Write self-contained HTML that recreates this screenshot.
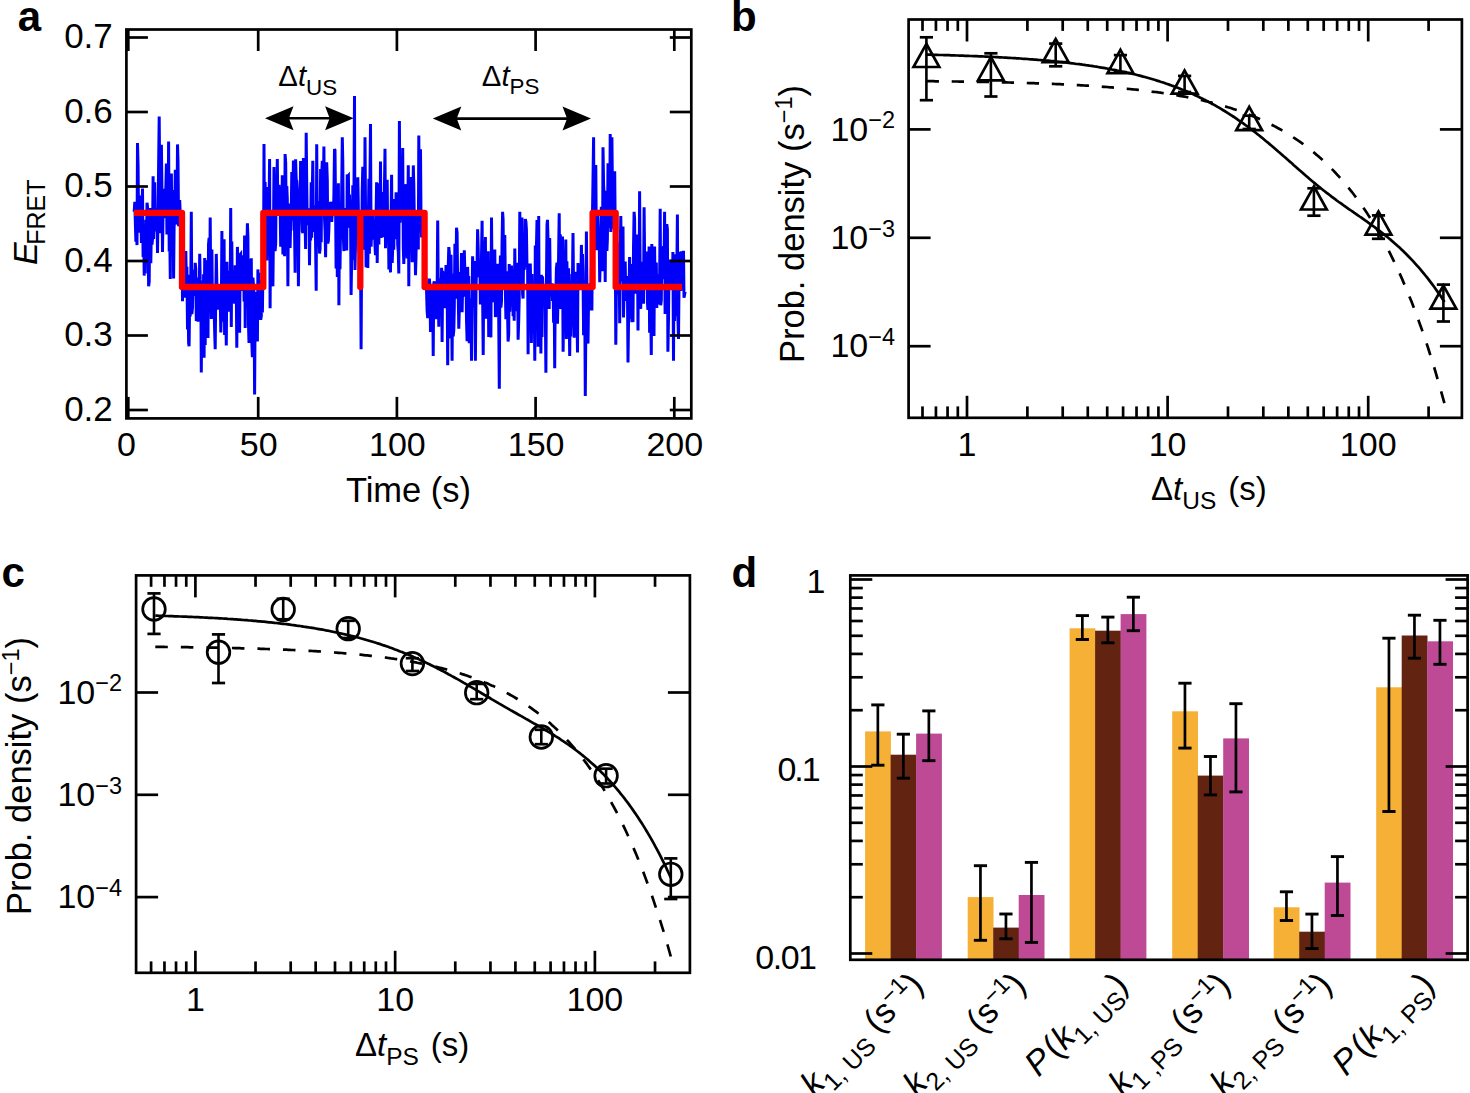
<!DOCTYPE html><html><head><meta charset="utf-8"><style>html,body{margin:0;padding:0;background:#fff;}svg{display:block;}</style></head><body><svg width="1470" height="1093" viewBox="0 0 1470 1093" font-family="'Liberation Sans', sans-serif">
<rect width="1470" height="1093" fill="#fff"/>
<polyline points="134.2,211.8 134.8,201.8 135.3,221.0 135.9,241.7 136.4,227.1 137.0,245.1 137.5,143.0 138.1,166.9 138.6,228.3 139.2,232.6 139.8,195.4 140.3,199.9 140.9,208.3 141.4,243.0 142.0,212.8 142.5,188.5 143.1,256.9 143.6,227.2 144.2,275.6 144.7,255.1 145.3,273.6 145.9,219.7 146.4,254.3 147.0,202.7 147.5,206.6 148.1,218.1 148.6,286.3 149.2,282.0 149.7,213.5 150.3,208.0 150.8,263.1 151.4,227.8 152.0,244.6 152.5,238.9 153.1,176.3 153.6,238.9 154.2,212.9 154.7,182.2 155.3,231.4 155.8,215.6 156.4,208.1 156.9,209.7 157.5,252.9 158.1,209.3 158.6,166.3 159.2,116.6 159.7,183.0 160.3,207.8 160.8,233.3 161.4,144.8 161.9,186.3 162.5,252.0 163.1,209.3 163.6,192.5 164.2,218.2 164.7,188.9 165.3,214.1 165.8,189.5 166.4,163.6 166.9,234.5 167.5,205.0 168.0,227.4 168.6,141.5 169.2,251.6 169.7,231.3 170.3,279.0 170.8,181.7 171.4,173.4 171.9,256.2 172.5,238.5 173.0,190.1 173.6,278.6 174.1,227.4 174.7,215.1 175.3,169.7 175.8,188.7 176.4,222.8 176.9,224.2 177.5,144.4 178.0,160.8 178.6,226.2 179.1,222.0 179.7,200.0 180.3,215.9 180.8,218.4 181.4,249.2 181.9,212.2 182.5,301.2 183.0,247.2 183.6,264.4 184.1,287.1 184.7,263.9 185.2,297.7 185.8,251.1 186.4,286.5 186.9,266.8 187.5,329.6 188.0,274.7 188.6,342.9 189.1,346.3 189.7,296.5 190.2,316.5 190.8,280.8 191.3,211.8 191.9,314.2 192.5,307.2 193.0,279.4 193.6,269.8 194.1,292.2 194.7,293.2 195.2,262.8 195.8,268.9 196.3,321.0 196.9,289.0 197.4,285.1 198.0,321.7 198.6,277.6 199.1,315.1 199.7,253.7 200.2,279.9 200.8,283.3 201.3,372.6 201.9,290.3 202.4,353.3 203.0,324.3 203.6,274.2 204.1,357.7 204.7,257.9 205.2,344.9 205.8,261.0 206.3,314.7 206.9,260.2 207.4,281.9 208.0,337.9 208.5,244.5 209.1,238.0 209.7,288.5 210.2,217.5 210.8,291.7 211.3,319.0 211.9,249.5 212.4,304.5 213.0,288.0 213.5,312.9 214.1,307.3 214.6,329.2 215.2,349.2 215.8,291.5 216.3,253.9 216.9,285.9 217.4,309.6 218.0,297.3 218.5,305.1 219.1,286.1 219.6,298.9 220.2,296.4 220.8,332.5 221.3,313.4 221.9,230.9 222.4,308.8 223.0,321.7 223.5,275.0 224.1,239.2 224.6,335.1 225.2,293.3 225.7,307.5 226.3,345.4 226.9,261.7 227.4,287.1 228.0,283.9 228.5,311.6 229.1,271.1 229.6,304.4 230.2,291.1 230.7,207.9 231.3,327.1 231.8,241.6 232.4,303.3 233.0,276.6 233.5,287.5 234.1,301.1 234.6,303.4 235.2,265.2 235.7,296.5 236.3,291.4 236.8,347.8 237.4,246.9 237.9,263.5 238.5,273.5 239.1,305.2 239.6,332.7 240.2,254.5 240.7,253.9 241.3,291.0 241.8,268.2 242.4,260.1 242.9,258.5 243.5,255.4 244.1,301.6 244.6,235.5 245.2,328.1 245.7,257.4 246.3,269.8 246.8,257.0 247.4,223.3 247.9,236.6 248.5,324.7 249.0,342.9 249.6,258.9 250.2,320.4 250.7,286.7 251.3,258.2 251.8,341.4 252.4,357.1 252.9,277.6 253.5,284.8 254.0,294.6 254.6,394.6 255.1,315.2 255.7,337.1 256.3,291.9 256.8,318.9 257.4,341.4 257.9,269.4 258.5,288.4 259.0,272.7 259.6,319.5 260.1,308.4 260.7,319.8 261.3,316.1 261.8,279.8 262.4,312.6 262.9,274.4 263.5,274.9 264.0,143.9 264.6,258.5 265.1,182.1 265.7,214.8 266.2,212.3 266.8,260.4 267.4,227.3 267.9,186.9 268.5,214.6 269.0,209.1 269.6,159.0 270.1,308.3 270.7,212.5 271.2,285.6 271.8,235.0 272.3,277.8 272.9,286.3 273.5,229.6 274.0,167.1 274.6,210.3 275.1,251.1 275.7,243.4 276.2,173.9 276.8,206.5 277.3,159.0 277.9,213.6 278.5,210.5 279.0,184.8 279.6,193.3 280.1,204.6 280.7,246.8 281.2,194.7 281.8,234.8 282.3,175.2 282.9,254.4 283.4,216.4 284.0,212.1 284.6,256.2 285.1,154.1 285.7,162.9 286.2,227.4 286.8,186.0 287.3,199.1 287.9,286.3 288.4,203.4 289.0,213.9 289.5,209.0 290.1,247.9 290.7,220.9 291.2,217.8 291.8,172.0 292.3,200.6 292.9,212.0 293.4,160.6 294.0,230.4 294.5,224.9 295.1,272.7 295.6,159.2 296.2,179.5 296.8,181.1 297.3,189.4 297.9,208.1 298.4,286.3 299.0,220.3 299.5,218.7 300.1,210.0 300.6,161.1 301.2,193.2 301.8,213.8 302.3,231.3 302.9,233.1 303.4,158.1 304.0,194.8 304.5,209.6 305.1,223.4 305.6,249.0 306.2,132.7 306.7,182.5 307.3,225.0 307.9,219.4 308.4,219.2 309.0,208.2 309.5,265.2 310.1,219.7 310.6,240.5 311.2,182.2 311.7,237.7 312.3,192.5 312.8,160.7 313.4,222.3 314.0,232.0 314.5,205.4 315.1,211.9 315.6,245.1 316.2,290.7 316.7,144.3 317.3,220.5 317.8,218.6 318.4,246.9 319.0,201.1 319.5,253.6 320.1,248.9 320.6,168.9 321.2,242.2 321.7,175.6 322.3,160.7 322.8,203.1 323.4,193.3 323.9,146.4 324.5,218.4 325.1,231.7 325.6,257.2 326.2,210.4 326.7,162.2 327.3,179.7 327.8,243.4 328.4,240.5 328.9,228.7 329.5,202.0 330.0,218.7 330.6,204.6 331.2,201.9 331.7,221.8 332.3,213.2 332.8,204.9 333.4,214.6 333.9,194.9 334.5,149.1 335.0,150.2 335.6,210.0 336.1,268.4 336.7,198.8 337.3,277.1 337.8,259.1 338.4,183.2 338.9,305.3 339.5,216.9 340.0,269.2 340.6,224.3 341.1,234.6 341.7,190.5 342.3,137.3 342.8,162.0 343.4,238.0 343.9,251.1 344.5,213.7 345.0,217.8 345.6,250.4 346.1,207.9 346.7,250.4 347.2,174.5 347.8,176.2 348.4,175.5 348.9,227.7 349.5,194.6 350.0,216.3 350.6,224.9 351.1,295.0 351.7,255.4 352.2,260.2 352.8,185.2 353.3,218.2 353.9,204.6 354.5,96.1 355.0,269.9 355.6,238.1 356.1,206.0 356.7,198.7 357.2,224.5 357.8,177.3 358.3,204.8 358.9,252.5 359.5,243.0 360.0,259.3 360.6,270.8 361.1,349.2 361.7,241.1 362.2,191.8 362.8,166.8 363.3,224.7 363.9,221.7 364.4,249.6 365.0,137.3 365.6,217.7 366.1,267.3 366.7,233.5 367.2,206.3 367.8,267.9 368.3,224.7 368.9,178.8 369.4,253.8 370.0,175.9 370.5,123.9 371.1,246.8 371.7,228.6 372.2,227.2 372.8,213.5 373.3,229.8 373.9,239.6 374.4,222.0 375.0,246.3 375.5,255.1 376.1,213.4 376.6,182.2 377.2,263.1 377.8,211.7 378.3,233.6 378.9,244.6 379.4,183.2 380.0,229.2 380.5,161.6 381.1,238.0 381.6,198.9 382.2,219.4 382.8,237.1 383.3,192.1 383.9,217.0 384.4,191.6 385.0,148.8 385.5,248.2 386.1,215.3 386.6,210.1 387.2,179.7 387.7,242.2 388.3,213.1 388.9,269.6 389.4,264.4 390.0,248.1 390.5,272.4 391.1,213.8 391.6,174.8 392.2,262.9 392.7,248.3 393.3,236.7 393.8,249.7 394.4,199.1 395.0,238.9 395.5,236.0 396.1,192.3 396.6,237.2 397.2,197.3 397.7,244.4 398.3,252.5 398.8,273.4 399.4,121.0 400.0,222.6 400.5,203.7 401.1,212.9 401.6,206.5 402.2,210.2 402.7,147.9 403.3,246.7 403.8,264.0 404.4,245.8 404.9,256.6 405.5,186.8 406.1,184.3 406.6,244.1 407.2,258.4 407.7,223.7 408.3,165.2 408.8,286.3 409.4,194.2 409.9,247.9 410.5,177.0 411.0,248.0 411.6,221.4 412.2,262.3 412.7,244.6 413.3,165.4 413.8,184.3 414.4,225.3 414.9,241.0 415.5,275.3 416.0,257.0 416.6,212.9 417.2,214.6 417.7,215.0 418.3,249.4 418.8,135.6 419.4,213.1 419.9,168.6 420.5,149.2 421.0,216.4 421.6,237.5 422.1,214.0 422.7,232.2 423.3,236.7 423.8,213.8 424.4,246.8 424.9,266.0 425.5,289.8 426.0,277.9 426.6,292.5 427.1,310.7 427.7,318.1 428.2,294.3 428.8,304.7 429.4,278.5 429.9,286.5 430.5,332.0 431.0,284.1 431.6,331.3 432.1,307.0 432.7,296.2 433.2,355.9 433.8,283.3 434.3,281.3 434.9,291.6 435.5,300.6 436.0,298.9 436.6,319.1 437.1,295.4 437.7,220.5 438.2,283.3 438.8,326.7 439.3,278.4 439.9,281.5 440.5,291.1 441.0,301.1 441.6,267.8 442.1,342.1 442.7,270.9 443.2,278.2 443.8,276.8 444.3,273.5 444.9,308.2 445.4,295.0 446.0,265.0 446.6,271.9 447.1,279.4 447.7,365.3 448.2,268.3 448.8,247.1 449.3,252.5 449.9,278.5 450.4,338.6 451.0,254.7 451.5,291.3 452.1,360.8 452.7,273.7 453.2,336.4 453.8,329.8 454.3,307.6 454.9,243.7 455.4,298.8 456.0,277.2 456.5,227.7 457.1,232.9 457.7,289.8 458.2,294.4 458.8,328.6 459.3,309.6 459.9,272.1 460.4,273.1 461.0,282.6 461.5,253.0 462.1,312.2 462.6,288.2 463.2,261.8 463.8,266.7 464.3,250.4 464.9,273.0 465.4,296.7 466.0,274.2 466.5,319.9 467.1,341.3 467.6,266.9 468.2,288.2 468.7,276.0 469.3,343.2 469.9,298.6 470.4,306.4 471.0,315.3 471.5,360.8 472.1,297.6 472.6,256.2 473.2,273.6 473.7,306.5 474.3,286.8 474.8,261.0 475.4,360.8 476.0,290.5 476.5,268.1 477.1,263.5 477.6,229.3 478.2,248.3 478.7,275.9 479.3,276.2 479.8,259.9 480.4,304.4 481.0,287.7 481.5,255.9 482.1,220.7 482.6,291.7 483.2,355.0 483.7,279.7 484.3,241.3 484.8,287.3 485.4,237.1 485.9,318.7 486.5,292.6 487.1,293.0 487.6,260.0 488.2,251.3 488.7,336.9 489.3,317.0 489.8,275.0 490.4,308.4 490.9,337.4 491.5,217.5 492.0,269.8 492.6,269.8 493.2,302.3 493.7,251.8 494.3,294.4 494.8,249.6 495.4,316.9 495.9,315.0 496.5,279.5 497.0,309.9 497.6,263.7 498.2,277.6 498.7,317.3 499.3,388.8 499.8,298.1 500.4,255.6 500.9,307.5 501.5,301.1 502.0,245.7 502.6,211.8 503.1,219.3 503.7,284.2 504.3,279.0 504.8,234.9 505.4,290.5 505.9,319.1 506.5,282.4 507.0,271.2 507.6,314.1 508.1,341.5 508.7,334.5 509.2,264.0 509.8,311.8 510.4,291.1 510.9,279.2 511.5,265.6 512.0,297.6 512.6,269.6 513.1,316.2 513.7,298.5 514.2,320.7 514.8,248.4 515.3,287.2 515.9,311.1 516.5,298.1 517.0,293.8 517.6,262.8 518.1,339.8 518.7,321.1 519.2,299.0 519.8,211.8 520.3,254.3 520.9,290.1 521.5,262.5 522.0,217.4 522.6,294.2 523.1,298.6 523.7,245.7 524.2,269.8 524.8,263.8 525.3,219.0 525.9,221.8 526.4,229.0 527.0,267.4 527.6,263.4 528.1,354.3 528.7,265.0 529.2,292.8 529.8,271.8 530.3,263.5 530.9,297.8 531.4,343.0 532.0,274.0 532.5,311.2 533.1,297.4 533.7,306.6 534.2,297.8 534.8,360.8 535.3,245.5 535.9,277.8 536.4,249.1 537.0,220.0 537.5,285.6 538.1,346.8 538.7,216.0 539.2,326.8 539.8,303.2 540.3,283.7 540.9,353.5 541.4,274.8 542.0,337.0 542.5,276.4 543.1,290.0 543.6,296.8 544.2,288.8 544.8,304.4 545.3,306.9 545.9,372.7 546.4,287.3 547.0,224.5 547.5,219.9 548.1,242.0 548.6,262.7 549.2,309.0 549.7,238.0 550.3,288.2 550.9,288.6 551.4,296.1 552.0,283.2 552.5,300.9 553.1,289.1 553.6,322.7 554.2,298.9 554.7,368.3 555.3,288.7 555.9,294.3 556.4,268.5 557.0,262.6 557.5,323.7 558.1,293.3 558.6,255.5 559.2,213.2 559.7,282.2 560.3,234.2 560.8,309.1 561.4,283.6 562.0,303.8 562.5,236.4 563.1,351.8 563.6,308.8 564.2,304.1 564.7,264.1 565.3,266.0 565.8,239.6 566.4,339.1 566.9,261.2 567.5,296.2 568.1,308.6 568.6,268.2 569.2,317.2 569.7,356.0 570.3,298.7 570.8,336.5 571.4,308.1 571.9,273.9 572.5,275.9 573.0,233.1 573.6,293.0 574.2,337.7 574.7,311.7 575.3,317.2 575.8,327.2 576.4,271.7 576.9,308.0 577.5,352.6 578.0,263.0 578.6,290.1 579.2,274.4 579.7,282.8 580.3,265.2 580.8,285.1 581.4,244.9 581.9,272.1 582.5,254.0 583.0,272.6 583.6,335.2 584.1,291.8 584.7,295.0 585.3,396.0 585.8,331.9 586.4,231.5 586.9,282.8 587.5,326.9 588.0,343.6 588.6,295.8 589.1,289.3 589.7,310.4 590.2,283.2 590.8,307.8 591.4,267.8 591.9,310.6 592.5,213.1 593.0,179.0 593.6,137.3 594.1,245.6 594.7,227.4 595.2,240.0 595.8,164.9 596.4,250.3 596.9,228.1 597.5,212.8 598.0,244.6 598.6,243.9 599.1,227.8 599.7,282.2 600.2,260.3 600.8,225.7 601.3,206.9 601.9,218.1 602.5,271.3 603.0,147.3 603.6,185.1 604.1,193.2 604.7,214.5 605.2,282.0 605.8,190.7 606.3,231.2 606.9,251.0 607.4,238.7 608.0,163.3 608.6,204.4 609.1,173.0 609.7,227.9 610.2,134.1 610.8,232.0 611.3,217.1 611.9,137.3 612.4,186.1 613.0,228.6 613.5,214.7 614.1,200.9 614.7,171.2 615.2,228.2 615.8,344.7 616.3,295.7 616.9,285.8 617.4,282.7 618.0,242.2 618.5,275.7 619.1,259.1 619.7,323.2 620.2,257.2 620.8,216.1 621.3,260.4 621.9,277.8 622.4,281.2 623.0,226.4 623.5,317.4 624.1,290.1 624.6,270.9 625.2,261.4 625.8,301.0 626.3,276.0 626.9,295.6 627.4,282.3 628.0,362.4 628.5,324.6 629.1,287.0 629.6,256.9 630.2,318.7 630.7,294.4 631.3,264.0 631.9,322.2 632.4,280.2 633.0,321.9 633.5,248.3 634.1,211.8 634.6,218.5 635.2,293.7 635.7,261.5 636.3,282.3 636.9,282.9 637.4,234.4 638.0,330.6 638.5,251.0 639.1,288.0 639.6,191.2 640.2,280.1 640.7,308.9 641.3,277.0 641.8,261.7 642.4,285.1 643.0,270.0 643.5,303.8 644.1,207.3 644.6,256.2 645.2,262.9 645.7,281.4 646.3,284.0 646.8,251.6 647.4,301.7 647.9,310.0 648.5,292.7 649.1,246.5 649.6,332.8 650.2,246.4 650.7,307.8 651.3,355.0 651.8,244.1 652.4,289.6 652.9,329.9 653.5,298.4 654.0,336.0 654.6,246.4 655.2,300.6 655.7,272.7 656.3,262.4 656.8,307.9 657.4,274.4 657.9,287.4 658.5,304.3 659.0,302.8 659.6,284.1 660.2,208.8 660.7,305.3 661.3,300.6 661.8,249.0 662.4,279.2 662.9,256.7 663.5,246.0 664.0,266.6 664.6,211.8 665.1,314.0 665.7,259.2 666.3,297.0 666.8,224.1 667.4,229.3 667.9,351.8 668.5,318.8 669.0,264.1 669.6,259.8 670.1,261.6 670.7,288.7 671.2,271.1 671.8,264.4 672.4,288.9 672.9,251.9 673.5,360.8 674.0,265.1 674.6,321.0 675.1,254.2 675.7,294.0 676.2,316.1 676.8,273.8 677.4,214.6 677.9,316.9 678.5,338.9 679.0,287.2 679.6,269.7 680.1,252.0 680.7,291.1 681.2,251.2 681.8,285.7 682.3,289.5 682.9,267.1 683.5,250.8 684.0,297.8 684.6,294.5 685.1,291.7" fill="none" stroke="#0000FA" stroke-width="3.0" stroke-linejoin="miter"/>
<polyline points="134,212.9 182,212.9 182,287 263.3,287 263.3,212.9 360.3,212.9 360.3,287 360.3,212.9 424.6,212.9 424.6,287 592.6,287 592.6,212.9 615.7,212.9 615.7,287 682,287" fill="none" stroke="#FF0000" stroke-width="6.3" stroke-linejoin="round"/>
<rect x="126.40" y="29.50" width="564.90" height="388.90" fill="none" stroke="#000" stroke-width="2.7"/>
<line x1="126.40" y1="410.00" x2="147.90" y2="410.00" stroke="#000" stroke-width="2.7" />
<line x1="669.80" y1="410.00" x2="691.30" y2="410.00" stroke="#000" stroke-width="2.7" />
<text x="112.80" y="420.60" font-size="35" text-anchor="end" >0.2</text>
<line x1="126.40" y1="335.50" x2="147.90" y2="335.50" stroke="#000" stroke-width="2.7" />
<line x1="669.80" y1="335.50" x2="691.30" y2="335.50" stroke="#000" stroke-width="2.7" />
<text x="112.80" y="346.10" font-size="35" text-anchor="end" >0.3</text>
<line x1="126.40" y1="261.00" x2="147.90" y2="261.00" stroke="#000" stroke-width="2.7" />
<line x1="669.80" y1="261.00" x2="691.30" y2="261.00" stroke="#000" stroke-width="2.7" />
<text x="112.80" y="271.60" font-size="35" text-anchor="end" >0.4</text>
<line x1="126.40" y1="186.50" x2="147.90" y2="186.50" stroke="#000" stroke-width="2.7" />
<line x1="669.80" y1="186.50" x2="691.30" y2="186.50" stroke="#000" stroke-width="2.7" />
<text x="112.80" y="197.10" font-size="35" text-anchor="end" >0.5</text>
<line x1="126.40" y1="112.00" x2="147.90" y2="112.00" stroke="#000" stroke-width="2.7" />
<line x1="669.80" y1="112.00" x2="691.30" y2="112.00" stroke="#000" stroke-width="2.7" />
<text x="112.80" y="122.60" font-size="35" text-anchor="end" >0.6</text>
<line x1="126.40" y1="37.50" x2="147.90" y2="37.50" stroke="#000" stroke-width="2.7" />
<line x1="669.80" y1="37.50" x2="691.30" y2="37.50" stroke="#000" stroke-width="2.7" />
<text x="112.80" y="48.10" font-size="35" text-anchor="end" >0.7</text>
<line x1="258.20" y1="418.40" x2="258.20" y2="396.90" stroke="#000" stroke-width="2.7" />
<line x1="258.20" y1="29.50" x2="258.20" y2="51.00" stroke="#000" stroke-width="2.7" />
<line x1="396.90" y1="418.40" x2="396.90" y2="396.90" stroke="#000" stroke-width="2.7" />
<line x1="396.90" y1="29.50" x2="396.90" y2="51.00" stroke="#000" stroke-width="2.7" />
<line x1="535.60" y1="418.40" x2="535.60" y2="396.90" stroke="#000" stroke-width="2.7" />
<line x1="535.60" y1="29.50" x2="535.60" y2="51.00" stroke="#000" stroke-width="2.7" />
<line x1="674.30" y1="418.40" x2="674.30" y2="396.90" stroke="#000" stroke-width="2.7" />
<line x1="674.30" y1="29.50" x2="674.30" y2="51.00" stroke="#000" stroke-width="2.7" />
<line x1="128.30" y1="29.50" x2="128.30" y2="51.00" stroke="#000" stroke-width="2.7" />
<line x1="128.30" y1="418.40" x2="128.30" y2="396.90" stroke="#000" stroke-width="2.7" />
<text x="126.50" y="456.00" font-size="34" text-anchor="middle" >0</text>
<text x="258.70" y="456.00" font-size="34" text-anchor="middle" >50</text>
<text x="397.40" y="456.00" font-size="34" text-anchor="middle" >100</text>
<text x="536.10" y="456.00" font-size="34" text-anchor="middle" >150</text>
<text x="674.80" y="456.00" font-size="34" text-anchor="middle" >200</text>
<text x="408.50" y="501.50" font-size="34.5" text-anchor="middle" >Time (s)</text>
<g transform="translate(37,265) rotate(-90)"><text x="0" y="0" font-size="34"><tspan font-style="italic">E</tspan><tspan font-size="25" dy="8" dx="-2.5">FRET</tspan></text></g>
<text x="17.80" y="31.00" font-size="42" text-anchor="start" font-weight="bold">a</text>
<line x1="282.1" y1="118.3" x2="336.5" y2="118.3" stroke="#000" stroke-width="2.6"/>
<path d="M265,118.3 L293.5,106.3 L288.94,118.3 L293.5,130.3 Z" fill="#000"/>
<path d="M353.6,118.3 L325.1,106.3 L329.66,118.3 L325.1,130.3 Z" fill="#000"/>
<line x1="449.9" y1="118.6" x2="573.9" y2="118.6" stroke="#000" stroke-width="2.6"/>
<path d="M432.8,118.6 L461.3,106.6 L456.74,118.6 L461.3,130.6 Z" fill="#000"/>
<path d="M591,118.6 L562.5,106.6 L567.06,118.6 L562.5,130.6 Z" fill="#000"/>
<text x="278.3" y="86" font-size="29.3">Δ<tspan font-style="italic">t</tspan><tspan font-size="22.4" dy="8.5">US</tspan></text>
<text x="481.8" y="85.7" font-size="29.3">Δ<tspan font-style="italic">t</tspan><tspan font-size="22.4" dy="8.5">PS</tspan></text>
<polyline points="926.7,81.2 928.5,81.2 930.2,81.2 931.9,81.2 933.7,81.2 935.4,81.3 937.1,81.3 938.9,81.3 940.6,81.3 942.3,81.3 944.1,81.3 945.8,81.4 947.5,81.4 949.3,81.4 951.0,81.4 952.7,81.5 954.5,81.5 956.2,81.5 957.9,81.5 959.6,81.6 961.4,81.6 963.1,81.6 964.8,81.6 966.6,81.7 968.3,81.7 970.0,81.7 971.8,81.7 973.5,81.8 975.2,81.8 977.0,81.8 978.7,81.9 980.4,81.9 982.2,81.9 983.9,81.9 985.6,82.0 987.4,82.0 989.1,82.0 990.8,82.1 992.5,82.1 994.3,82.2 996.0,82.2 997.7,82.2 999.5,82.3 1001.2,82.3 1002.9,82.3 1004.7,82.4 1006.4,82.4 1008.1,82.5 1009.9,82.5 1011.6,82.6 1013.3,82.6 1015.1,82.7 1016.8,82.7 1018.5,82.7 1020.2,82.8 1022.0,82.8 1023.7,82.9 1025.4,82.9 1027.2,83.0 1028.9,83.1 1030.6,83.1 1032.4,83.2 1034.1,83.2 1035.8,83.3 1037.6,83.3 1039.3,83.4 1041.0,83.5 1042.8,83.5 1044.5,83.6 1046.2,83.7 1048.0,83.7 1049.7,83.8 1051.4,83.9 1053.1,83.9 1054.9,84.0 1056.6,84.1 1058.3,84.2 1060.1,84.2 1061.8,84.3 1063.5,84.4 1065.3,84.5 1067.0,84.6 1068.7,84.6 1070.5,84.7 1072.2,84.8 1073.9,84.9 1075.7,85.0 1077.4,85.1 1079.1,85.2 1080.9,85.3 1082.6,85.4 1084.3,85.5 1086.0,85.6 1087.8,85.7 1089.5,85.8 1091.2,85.9 1093.0,86.0 1094.7,86.1 1096.4,86.3 1098.2,86.4 1099.9,86.5 1101.6,86.6 1103.4,86.8 1105.1,86.9 1106.8,87.0 1108.6,87.2 1110.3,87.3 1112.0,87.4 1113.8,87.6 1115.5,87.7 1117.2,87.9 1118.9,88.0 1120.7,88.2 1122.4,88.3 1124.1,88.5 1125.9,88.7 1127.6,88.8 1129.3,89.0 1131.1,89.2 1132.8,89.3 1134.5,89.5 1136.3,89.7 1138.0,89.9 1139.7,90.1 1141.5,90.3 1143.2,90.5 1144.9,90.7 1146.6,90.9 1148.4,91.1 1150.1,91.3 1151.8,91.6 1153.6,91.8 1155.3,92.0 1157.0,92.2 1158.8,92.5 1160.5,92.7 1162.2,93.0 1164.0,93.2 1165.7,93.5 1167.4,93.8 1169.2,94.0 1170.9,94.3 1172.6,94.6 1174.4,94.9 1176.1,95.2 1177.8,95.5 1179.5,95.8 1181.3,96.1 1183.0,96.4 1184.7,96.7 1186.5,97.0 1188.2,97.4 1189.9,97.7 1191.7,98.1 1193.4,98.4 1195.1,98.8 1196.9,99.2 1198.6,99.5 1200.3,99.9 1202.1,100.3 1203.8,100.7 1205.5,101.1 1207.3,101.5 1209.0,102.0 1210.7,102.4 1212.4,102.8 1214.2,103.3 1215.9,103.8 1217.6,104.2 1219.4,104.7 1221.1,105.2 1222.8,105.7 1224.6,106.2 1226.3,106.7 1228.0,107.3 1229.8,107.8 1231.5,108.3 1233.2,108.9 1235.0,109.5 1236.7,110.1 1238.4,110.7 1240.2,111.3 1241.9,111.9 1243.6,112.5 1245.3,113.2 1247.1,113.8 1248.8,114.5 1250.5,115.2 1252.3,115.9 1254.0,116.6 1255.7,117.3 1257.5,118.1 1259.2,118.8 1260.9,119.6 1262.7,120.4 1264.4,121.2 1266.1,122.0 1267.9,122.9 1269.6,123.7 1271.3,124.6 1273.1,125.5 1274.8,126.4 1276.5,127.3 1278.2,128.3 1280.0,129.2 1281.7,130.2 1283.4,131.2 1285.2,132.2 1286.9,133.3 1288.6,134.3 1290.4,135.4 1292.1,136.5 1293.8,137.7 1295.6,138.8 1297.3,140.0 1299.0,141.2 1300.8,142.4 1302.5,143.6 1304.2,144.9 1305.9,146.2 1307.7,147.5 1309.4,148.9 1311.1,150.3 1312.9,151.7 1314.6,153.1 1316.3,154.6 1318.1,156.0 1319.8,157.6 1321.5,159.1 1323.3,160.7 1325.0,162.3 1326.7,164.0 1328.5,165.6 1330.2,167.4 1331.9,169.1 1333.7,170.9 1335.4,172.7 1337.1,174.6 1338.8,176.4 1340.6,178.4 1342.3,180.3 1344.0,182.4 1345.8,184.4 1347.5,186.5 1349.2,188.6 1351.0,190.8 1352.7,193.0 1354.4,195.3 1356.2,197.6 1357.9,199.9 1359.6,202.3 1361.4,204.8 1363.1,207.3 1364.8,209.8 1366.6,212.4 1368.3,215.1 1370.0,217.8 1371.7,220.6 1373.5,223.4 1375.2,226.2 1376.9,229.2 1378.7,232.2 1380.4,235.2 1382.1,238.3 1383.9,241.5 1385.6,244.7 1387.3,248.0 1389.1,251.4 1390.8,254.8 1392.5,258.3 1394.3,261.9 1396.0,265.5 1397.7,269.3 1399.5,273.1 1401.2,276.9 1402.9,280.9 1404.6,284.9 1406.4,289.0 1408.1,293.2 1409.8,297.5 1411.6,301.8 1413.3,306.3 1415.0,310.8 1416.8,315.4 1418.5,320.2 1420.2,325.0 1422.0,329.9 1423.7,334.9 1425.4,340.0 1427.2,345.2 1428.9,350.5 1430.6,356.0 1432.3,361.5 1434.1,367.1 1435.8,372.9 1437.5,378.8 1439.3,384.8 1441.0,390.9 1442.7,397.1 1444.5,403.5" fill="none" stroke="#000" stroke-width="2.7" stroke-dasharray="12.27,12.76"/>
<polyline points="926.7,54.6 928.5,54.7 930.2,54.7 931.9,54.8 933.7,54.8 935.4,54.9 937.1,54.9 938.9,55.0 940.6,55.0 942.3,55.0 944.1,55.1 945.8,55.1 947.5,55.2 949.3,55.2 951.0,55.3 952.7,55.4 954.5,55.4 956.2,55.5 957.9,55.5 959.6,55.6 961.4,55.6 963.1,55.7 964.8,55.8 966.6,55.8 968.3,55.9 970.0,56.0 971.8,56.0 973.5,56.1 975.2,56.2 977.0,56.2 978.7,56.3 980.4,56.4 982.2,56.4 983.9,56.5 985.6,56.6 987.4,56.7 989.1,56.8 990.8,56.8 992.5,56.9 994.3,57.0 996.0,57.1 997.7,57.2 999.5,57.3 1001.2,57.4 1002.9,57.5 1004.7,57.6 1006.4,57.7 1008.1,57.8 1009.9,57.9 1011.6,58.0 1013.3,58.1 1015.1,58.2 1016.8,58.3 1018.5,58.4 1020.2,58.5 1022.0,58.7 1023.7,58.8 1025.4,58.9 1027.2,59.0 1028.9,59.2 1030.6,59.3 1032.4,59.4 1034.1,59.6 1035.8,59.7 1037.6,59.8 1039.3,60.0 1041.0,60.1 1042.8,60.3 1044.5,60.4 1046.2,60.6 1048.0,60.7 1049.7,60.9 1051.4,61.1 1053.1,61.2 1054.9,61.4 1056.6,61.6 1058.3,61.8 1060.1,62.0 1061.8,62.1 1063.5,62.3 1065.3,62.5 1067.0,62.7 1068.7,62.9 1070.5,63.1 1072.2,63.3 1073.9,63.5 1075.7,63.8 1077.4,64.0 1079.1,64.2 1080.9,64.4 1082.6,64.7 1084.3,64.9 1086.0,65.2 1087.8,65.4 1089.5,65.7 1091.2,65.9 1093.0,66.2 1094.7,66.5 1096.4,66.7 1098.2,67.0 1099.9,67.3 1101.6,67.6 1103.4,67.9 1105.1,68.2 1106.8,68.5 1108.6,68.8 1110.3,69.1 1112.0,69.5 1113.8,69.8 1115.5,70.1 1117.2,70.5 1118.9,70.8 1120.7,71.2 1122.4,71.6 1124.1,71.9 1125.9,72.3 1127.6,72.7 1129.3,73.1 1131.1,73.5 1132.8,73.9 1134.5,74.3 1136.3,74.8 1138.0,75.2 1139.7,75.6 1141.5,76.1 1143.2,76.6 1144.9,77.0 1146.6,77.5 1148.4,78.0 1150.1,78.5 1151.8,79.0 1153.6,79.5 1155.3,80.0 1157.0,80.6 1158.8,81.1 1160.5,81.7 1162.2,82.2 1164.0,82.8 1165.7,83.4 1167.4,84.0 1169.2,84.6 1170.9,85.2 1172.6,85.9 1174.4,86.5 1176.1,87.2 1177.8,87.8 1179.5,88.5 1181.3,89.2 1183.0,89.9 1184.7,90.6 1186.5,91.3 1188.2,92.1 1189.9,92.8 1191.7,93.6 1193.4,94.4 1195.1,95.2 1196.9,96.0 1198.6,96.8 1200.3,97.7 1202.1,98.5 1203.8,99.4 1205.5,100.3 1207.3,101.2 1209.0,102.1 1210.7,103.0 1212.4,104.0 1214.2,104.9 1215.9,105.9 1217.6,106.9 1219.4,107.9 1221.1,108.9 1222.8,110.0 1224.6,111.0 1226.3,112.1 1228.0,113.2 1229.8,114.3 1231.5,115.4 1233.2,116.5 1235.0,117.7 1236.7,118.9 1238.4,120.1 1240.2,121.3 1241.9,122.5 1243.6,123.7 1245.3,125.0 1247.1,126.2 1248.8,127.5 1250.5,128.8 1252.3,130.1 1254.0,131.5 1255.7,132.8 1257.5,134.2 1259.2,135.5 1260.9,136.9 1262.7,138.3 1264.4,139.8 1266.1,141.2 1267.9,142.6 1269.6,144.1 1271.3,145.5 1273.1,147.0 1274.8,148.5 1276.5,150.0 1278.2,151.5 1280.0,153.0 1281.7,154.5 1283.4,156.0 1285.2,157.5 1286.9,159.1 1288.6,160.6 1290.4,162.1 1292.1,163.6 1293.8,165.2 1295.6,166.7 1297.3,168.2 1299.0,169.8 1300.8,171.3 1302.5,172.8 1304.2,174.3 1305.9,175.8 1307.7,177.3 1309.4,178.8 1311.1,180.2 1312.9,181.7 1314.6,183.1 1316.3,184.6 1318.1,186.0 1319.8,187.4 1321.5,188.8 1323.3,190.2 1325.0,191.5 1326.7,192.9 1328.5,194.2 1330.2,195.5 1331.9,196.9 1333.7,198.2 1335.4,199.4 1337.1,200.7 1338.8,202.0 1340.6,203.2 1342.3,204.4 1344.0,205.7 1345.8,206.9 1347.5,208.1 1349.2,209.3 1351.0,210.5 1352.7,211.7 1354.4,212.9 1356.2,214.1 1357.9,215.3 1359.6,216.5 1361.4,217.7 1363.1,218.9 1364.8,220.1 1366.6,221.3 1368.3,222.6 1370.0,223.8 1371.7,225.1 1373.5,226.3 1375.2,227.6 1376.9,228.9 1378.7,230.2 1380.4,231.5 1382.1,232.9 1383.9,234.2 1385.6,235.6 1387.3,237.0 1389.1,238.5 1390.8,239.9 1392.5,241.4 1394.3,242.9 1396.0,244.4 1397.7,246.0 1399.5,247.6 1401.2,249.2 1402.9,250.8 1404.6,252.5 1406.4,254.2 1408.1,256.0 1409.8,257.8 1411.6,259.6 1413.3,261.4 1415.0,263.3 1416.8,265.3 1418.5,267.2 1420.2,269.2 1422.0,271.3 1423.7,273.4 1425.4,275.5 1427.2,277.7 1428.9,279.9 1430.6,282.1 1432.3,284.4 1434.1,286.8 1435.8,289.2 1437.5,291.6 1439.3,294.1 1441.0,296.6 1442.7,299.2 1444.5,301.9" fill="none" stroke="#000" stroke-width="2.7"/>
<line x1="926.40" y1="37.30" x2="926.40" y2="100.20" stroke="#000" stroke-width="2.6" />
<line x1="919.80" y1="37.30" x2="933.00" y2="37.30" stroke="#000" stroke-width="2.7" />
<line x1="919.80" y1="100.20" x2="933.00" y2="100.20" stroke="#000" stroke-width="2.7" />
<polygon points="926.4,43.8 913.5,67.0 939.3,67.0" fill="none" stroke="#000" stroke-width="2.7"/>
<line x1="990.90" y1="53.30" x2="990.90" y2="96.50" stroke="#000" stroke-width="2.6" />
<line x1="984.30" y1="53.30" x2="997.50" y2="53.30" stroke="#000" stroke-width="2.7" />
<line x1="984.30" y1="96.50" x2="997.50" y2="96.50" stroke="#000" stroke-width="2.7" />
<polygon points="990.9,57.1 978.0,80.3 1003.8,80.3" fill="none" stroke="#000" stroke-width="2.7"/>
<line x1="1055.70" y1="43.60" x2="1055.70" y2="66.30" stroke="#000" stroke-width="2.6" />
<line x1="1049.10" y1="43.60" x2="1062.30" y2="43.60" stroke="#000" stroke-width="2.7" />
<line x1="1049.10" y1="66.30" x2="1062.30" y2="66.30" stroke="#000" stroke-width="2.7" />
<polygon points="1055.7,39.0 1042.8,62.2 1068.6,62.2" fill="none" stroke="#000" stroke-width="2.7"/>
<line x1="1120.40" y1="55.10" x2="1120.40" y2="72.20" stroke="#000" stroke-width="2.6" />
<line x1="1113.80" y1="55.10" x2="1127.00" y2="55.10" stroke="#000" stroke-width="2.7" />
<line x1="1113.80" y1="72.20" x2="1127.00" y2="72.20" stroke="#000" stroke-width="2.7" />
<polygon points="1120.4,49.9 1107.5,73.1 1133.3,73.1" fill="none" stroke="#000" stroke-width="2.7"/>
<line x1="1184.60" y1="75.90" x2="1184.60" y2="92.00" stroke="#000" stroke-width="2.6" />
<line x1="1178.00" y1="75.90" x2="1191.20" y2="75.90" stroke="#000" stroke-width="2.7" />
<line x1="1178.00" y1="92.00" x2="1191.20" y2="92.00" stroke="#000" stroke-width="2.7" />
<polygon points="1184.6,70.5 1171.7,93.7 1197.5,93.7" fill="none" stroke="#000" stroke-width="2.7"/>
<line x1="1249.20" y1="115.70" x2="1249.20" y2="129.00" stroke="#000" stroke-width="2.6" />
<line x1="1242.60" y1="115.70" x2="1255.80" y2="115.70" stroke="#000" stroke-width="2.7" />
<line x1="1242.60" y1="129.00" x2="1255.80" y2="129.00" stroke="#000" stroke-width="2.7" />
<polygon points="1249.2,106.9 1236.3,130.1 1262.1,130.1" fill="none" stroke="#000" stroke-width="2.7"/>
<line x1="1313.90" y1="188.30" x2="1313.90" y2="215.70" stroke="#000" stroke-width="2.6" />
<line x1="1307.30" y1="188.30" x2="1320.50" y2="188.30" stroke="#000" stroke-width="2.7" />
<line x1="1307.30" y1="215.70" x2="1320.50" y2="215.70" stroke="#000" stroke-width="2.7" />
<polygon points="1313.9,186.3 1301.0,209.5 1326.8,209.5" fill="none" stroke="#000" stroke-width="2.7"/>
<line x1="1378.50" y1="215.40" x2="1378.50" y2="238.80" stroke="#000" stroke-width="2.6" />
<line x1="1371.90" y1="215.40" x2="1385.10" y2="215.40" stroke="#000" stroke-width="2.7" />
<line x1="1371.90" y1="238.80" x2="1385.10" y2="238.80" stroke="#000" stroke-width="2.7" />
<polygon points="1378.5,211.5 1365.6,234.7 1391.4,234.7" fill="none" stroke="#000" stroke-width="2.7"/>
<line x1="1443.40" y1="284.60" x2="1443.40" y2="321.50" stroke="#000" stroke-width="2.6" />
<line x1="1436.80" y1="284.60" x2="1450.00" y2="284.60" stroke="#000" stroke-width="2.7" />
<line x1="1436.80" y1="321.50" x2="1450.00" y2="321.50" stroke="#000" stroke-width="2.7" />
<polygon points="1443.4,285.5 1430.5,308.7 1456.3,308.7" fill="none" stroke="#000" stroke-width="2.7"/>
<rect x="908.60" y="19.50" width="553.30" height="398.30" fill="none" stroke="#000" stroke-width="2.7"/>
<line x1="922.50" y1="417.80" x2="922.50" y2="406.40" stroke="#000" stroke-width="2.7" />
<line x1="922.50" y1="19.50" x2="922.50" y2="30.90" stroke="#000" stroke-width="2.7" />
<line x1="935.93" y1="417.80" x2="935.93" y2="406.40" stroke="#000" stroke-width="2.7" />
<line x1="935.93" y1="19.50" x2="935.93" y2="30.90" stroke="#000" stroke-width="2.7" />
<line x1="947.56" y1="417.80" x2="947.56" y2="406.40" stroke="#000" stroke-width="2.7" />
<line x1="947.56" y1="19.50" x2="947.56" y2="30.90" stroke="#000" stroke-width="2.7" />
<line x1="957.82" y1="417.80" x2="957.82" y2="406.40" stroke="#000" stroke-width="2.7" />
<line x1="957.82" y1="19.50" x2="957.82" y2="30.90" stroke="#000" stroke-width="2.7" />
<line x1="967.00" y1="417.80" x2="967.00" y2="395.80" stroke="#000" stroke-width="2.7" />
<line x1="967.00" y1="19.50" x2="967.00" y2="41.50" stroke="#000" stroke-width="2.7" />
<line x1="1027.39" y1="417.80" x2="1027.39" y2="406.40" stroke="#000" stroke-width="2.7" />
<line x1="1027.39" y1="19.50" x2="1027.39" y2="30.90" stroke="#000" stroke-width="2.7" />
<line x1="1062.71" y1="417.80" x2="1062.71" y2="406.40" stroke="#000" stroke-width="2.7" />
<line x1="1062.71" y1="19.50" x2="1062.71" y2="30.90" stroke="#000" stroke-width="2.7" />
<line x1="1087.77" y1="417.80" x2="1087.77" y2="406.40" stroke="#000" stroke-width="2.7" />
<line x1="1087.77" y1="19.50" x2="1087.77" y2="30.90" stroke="#000" stroke-width="2.7" />
<line x1="1107.21" y1="417.80" x2="1107.21" y2="406.40" stroke="#000" stroke-width="2.7" />
<line x1="1107.21" y1="19.50" x2="1107.21" y2="30.90" stroke="#000" stroke-width="2.7" />
<line x1="1123.10" y1="417.80" x2="1123.10" y2="406.40" stroke="#000" stroke-width="2.7" />
<line x1="1123.10" y1="19.50" x2="1123.10" y2="30.90" stroke="#000" stroke-width="2.7" />
<line x1="1136.53" y1="417.80" x2="1136.53" y2="406.40" stroke="#000" stroke-width="2.7" />
<line x1="1136.53" y1="19.50" x2="1136.53" y2="30.90" stroke="#000" stroke-width="2.7" />
<line x1="1148.16" y1="417.80" x2="1148.16" y2="406.40" stroke="#000" stroke-width="2.7" />
<line x1="1148.16" y1="19.50" x2="1148.16" y2="30.90" stroke="#000" stroke-width="2.7" />
<line x1="1158.42" y1="417.80" x2="1158.42" y2="406.40" stroke="#000" stroke-width="2.7" />
<line x1="1158.42" y1="19.50" x2="1158.42" y2="30.90" stroke="#000" stroke-width="2.7" />
<line x1="1167.60" y1="417.80" x2="1167.60" y2="395.80" stroke="#000" stroke-width="2.7" />
<line x1="1167.60" y1="19.50" x2="1167.60" y2="41.50" stroke="#000" stroke-width="2.7" />
<line x1="1227.99" y1="417.80" x2="1227.99" y2="406.40" stroke="#000" stroke-width="2.7" />
<line x1="1227.99" y1="19.50" x2="1227.99" y2="30.90" stroke="#000" stroke-width="2.7" />
<line x1="1263.31" y1="417.80" x2="1263.31" y2="406.40" stroke="#000" stroke-width="2.7" />
<line x1="1263.31" y1="19.50" x2="1263.31" y2="30.90" stroke="#000" stroke-width="2.7" />
<line x1="1288.37" y1="417.80" x2="1288.37" y2="406.40" stroke="#000" stroke-width="2.7" />
<line x1="1288.37" y1="19.50" x2="1288.37" y2="30.90" stroke="#000" stroke-width="2.7" />
<line x1="1307.81" y1="417.80" x2="1307.81" y2="406.40" stroke="#000" stroke-width="2.7" />
<line x1="1307.81" y1="19.50" x2="1307.81" y2="30.90" stroke="#000" stroke-width="2.7" />
<line x1="1323.70" y1="417.80" x2="1323.70" y2="406.40" stroke="#000" stroke-width="2.7" />
<line x1="1323.70" y1="19.50" x2="1323.70" y2="30.90" stroke="#000" stroke-width="2.7" />
<line x1="1337.13" y1="417.80" x2="1337.13" y2="406.40" stroke="#000" stroke-width="2.7" />
<line x1="1337.13" y1="19.50" x2="1337.13" y2="30.90" stroke="#000" stroke-width="2.7" />
<line x1="1348.76" y1="417.80" x2="1348.76" y2="406.40" stroke="#000" stroke-width="2.7" />
<line x1="1348.76" y1="19.50" x2="1348.76" y2="30.90" stroke="#000" stroke-width="2.7" />
<line x1="1359.02" y1="417.80" x2="1359.02" y2="406.40" stroke="#000" stroke-width="2.7" />
<line x1="1359.02" y1="19.50" x2="1359.02" y2="30.90" stroke="#000" stroke-width="2.7" />
<line x1="1368.20" y1="417.80" x2="1368.20" y2="395.80" stroke="#000" stroke-width="2.7" />
<line x1="1368.20" y1="19.50" x2="1368.20" y2="41.50" stroke="#000" stroke-width="2.7" />
<line x1="1428.59" y1="417.80" x2="1428.59" y2="406.40" stroke="#000" stroke-width="2.7" />
<line x1="1428.59" y1="19.50" x2="1428.59" y2="30.90" stroke="#000" stroke-width="2.7" />
<line x1="908.60" y1="129.40" x2="930.60" y2="129.40" stroke="#000" stroke-width="2.7" />
<line x1="1439.90" y1="129.40" x2="1461.90" y2="129.40" stroke="#000" stroke-width="2.7" />
<line x1="908.60" y1="237.80" x2="930.60" y2="237.80" stroke="#000" stroke-width="2.7" />
<line x1="1439.90" y1="237.80" x2="1461.90" y2="237.80" stroke="#000" stroke-width="2.7" />
<line x1="908.60" y1="346.20" x2="930.60" y2="346.20" stroke="#000" stroke-width="2.7" />
<line x1="1439.90" y1="346.20" x2="1461.90" y2="346.20" stroke="#000" stroke-width="2.7" />
<text x="967.00" y="455.80" font-size="34" text-anchor="middle" >1</text>
<text x="1167.60" y="455.80" font-size="34" text-anchor="middle" >10</text>
<text x="1368.20" y="455.80" font-size="34" text-anchor="middle" >100</text>
<text x="895.0" y="140.6" font-size="34" text-anchor="end">10<tspan font-size="23.5" dy="-12.4">−2</tspan></text>
<text x="895.0" y="249.0" font-size="34" text-anchor="end">10<tspan font-size="23.5" dy="-12.4">−3</tspan></text>
<text x="895.0" y="357.4" font-size="34" text-anchor="end">10<tspan font-size="23.5" dy="-12.4">−4</tspan></text>
<text x="1151" y="500" font-size="33">Δ<tspan font-style="italic">t</tspan><tspan font-size="24.5" dy="8.5">US</tspan><tspan dy="-8.5" dx="2.8"> (s)</tspan></text>
<g transform="translate(804,363) rotate(-90)"><text x="0" y="0" font-size="34.5">Prob. density (s<tspan font-size="23.5" dy="-12">−1</tspan><tspan dy="12">)</tspan></text></g>
<text x="731.00" y="31.00" font-size="42" text-anchor="start" font-weight="bold">b</text>
<polyline points="155.3,646.9 157.0,646.9 158.8,646.9 160.5,646.9 162.2,646.9 163.9,646.9 165.7,647.0 167.4,647.0 169.1,647.0 170.8,647.0 172.6,647.0 174.3,647.1 176.0,647.1 177.7,647.1 179.5,647.1 181.2,647.1 182.9,647.2 184.6,647.2 186.4,647.2 188.1,647.2 189.8,647.3 191.5,647.3 193.3,647.3 195.0,647.3 196.7,647.4 198.4,647.4 200.1,647.4 201.9,647.4 203.6,647.5 205.3,647.5 207.0,647.5 208.8,647.6 210.5,647.6 212.2,647.6 213.9,647.7 215.7,647.7 217.4,647.7 219.1,647.7 220.8,647.8 222.6,647.8 224.3,647.9 226.0,647.9 227.7,647.9 229.5,648.0 231.2,648.0 232.9,648.0 234.6,648.1 236.4,648.1 238.1,648.2 239.8,648.2 241.5,648.3 243.3,648.3 245.0,648.3 246.7,648.4 248.4,648.4 250.1,648.5 251.9,648.5 253.6,648.6 255.3,648.6 257.0,648.7 258.8,648.7 260.5,648.8 262.2,648.8 263.9,648.9 265.7,649.0 267.4,649.0 269.1,649.1 270.8,649.1 272.6,649.2 274.3,649.3 276.0,649.3 277.7,649.4 279.5,649.5 281.2,649.5 282.9,649.6 284.6,649.7 286.4,649.7 288.1,649.8 289.8,649.9 291.5,650.0 293.3,650.0 295.0,650.1 296.7,650.2 298.4,650.3 300.1,650.4 301.9,650.5 303.6,650.6 305.3,650.6 307.0,650.7 308.8,650.8 310.5,650.9 312.2,651.0 313.9,651.1 315.7,651.2 317.4,651.3 319.1,651.4 320.8,651.5 322.6,651.7 324.3,651.8 326.0,651.9 327.7,652.0 329.5,652.1 331.2,652.2 332.9,652.4 334.6,652.5 336.4,652.6 338.1,652.8 339.8,652.9 341.5,653.0 343.3,653.2 345.0,653.3 346.7,653.5 348.4,653.6 350.2,653.8 351.9,653.9 353.6,654.1 355.3,654.2 357.0,654.4 358.8,654.6 360.5,654.7 362.2,654.9 363.9,655.1 365.7,655.3 367.4,655.4 369.1,655.6 370.8,655.8 372.6,656.0 374.3,656.2 376.0,656.4 377.7,656.6 379.5,656.8 381.2,657.1 382.9,657.3 384.6,657.5 386.4,657.7 388.1,658.0 389.8,658.2 391.5,658.5 393.3,658.7 395.0,659.0 396.7,659.2 398.4,659.5 400.2,659.8 401.9,660.0 403.6,660.3 405.3,660.6 407.0,660.9 408.8,661.2 410.5,661.5 412.2,661.8 413.9,662.1 415.7,662.4 417.4,662.8 419.1,663.1 420.8,663.4 422.6,663.8 424.3,664.2 426.0,664.5 427.7,664.9 429.5,665.3 431.2,665.7 432.9,666.0 434.6,666.4 436.4,666.9 438.1,667.3 439.8,667.7 441.5,668.1 443.3,668.6 445.0,669.0 446.7,669.5 448.4,670.0 450.2,670.4 451.9,670.9 453.6,671.4 455.3,671.9 457.0,672.5 458.8,673.0 460.5,673.5 462.2,674.1 463.9,674.6 465.7,675.2 467.4,675.8 469.1,676.4 470.8,677.0 472.6,677.6 474.3,678.3 476.0,678.9 477.7,679.6 479.5,680.2 481.2,680.9 482.9,681.6 484.6,682.4 486.4,683.1 488.1,683.8 489.8,684.6 491.5,685.4 493.3,686.1 495.0,686.9 496.7,687.8 498.4,688.6 500.2,689.5 501.9,690.3 503.6,691.2 505.3,692.1 507.1,693.1 508.8,694.0 510.5,695.0 512.2,695.9 513.9,696.9 515.7,698.0 517.4,699.0 519.1,700.1 520.8,701.2 522.6,702.3 524.3,703.4 526.0,704.5 527.7,705.7 529.5,706.9 531.2,708.1 532.9,709.4 534.6,710.7 536.4,711.9 538.1,713.3 539.8,714.6 541.5,716.0 543.3,717.4 545.0,718.8 546.7,720.3 548.4,721.8 550.2,723.3 551.9,724.9 553.6,726.4 555.3,728.1 557.1,729.7 558.8,731.4 560.5,733.1 562.2,734.8 563.9,736.6 565.7,738.4 567.4,740.3 569.1,742.2 570.8,744.1 572.6,746.1 574.3,748.1 576.0,750.1 577.7,752.2 579.5,754.4 581.2,756.5 582.9,758.8 584.6,761.0 586.4,763.3 588.1,765.7 589.8,768.1 591.5,770.5 593.3,773.0 595.0,775.6 596.7,778.2 598.4,780.8 600.2,783.5 601.9,786.3 603.6,789.1 605.3,792.0 607.1,794.9 608.8,797.9 610.5,800.9 612.2,804.1 613.9,807.2 615.7,810.5 617.4,813.8 619.1,817.1 620.8,820.6 622.6,824.1 624.3,827.6 626.0,831.3 627.7,835.0 629.5,838.8 631.2,842.7 632.9,846.6 634.6,850.6 636.4,854.8 638.1,858.9 639.8,863.2 641.5,867.6 643.3,872.0 645.0,876.6 646.7,881.2 648.4,885.9 650.2,890.7 651.9,895.6 653.6,900.6 655.3,905.8 657.1,911.0 658.8,916.3 660.5,921.7 662.2,927.2 664.0,932.9 665.7,938.6 667.4,944.5 669.1,950.5 670.8,956.6" fill="none" stroke="#000" stroke-width="2.7" stroke-dasharray="12.52,13.03"/>
<polyline points="155.3,615.7 157.0,615.7 158.8,615.8 160.5,615.8 162.2,615.9 163.9,615.9 165.7,616.0 167.4,616.0 169.1,616.1 170.8,616.2 172.6,616.2 174.3,616.3 176.0,616.3 177.7,616.4 179.5,616.5 181.2,616.5 182.9,616.6 184.6,616.7 186.4,616.7 188.1,616.8 189.8,616.9 191.5,616.9 193.3,617.0 195.0,617.1 196.7,617.2 198.4,617.2 200.1,617.3 201.9,617.4 203.6,617.5 205.3,617.6 207.0,617.7 208.8,617.8 210.5,617.8 212.2,617.9 213.9,618.0 215.7,618.1 217.4,618.2 219.1,618.3 220.8,618.4 222.6,618.5 224.3,618.6 226.0,618.7 227.7,618.9 229.5,619.0 231.2,619.1 232.9,619.2 234.6,619.3 236.4,619.4 238.1,619.6 239.8,619.7 241.5,619.8 243.3,620.0 245.0,620.1 246.7,620.2 248.4,620.4 250.1,620.5 251.9,620.6 253.6,620.8 255.3,620.9 257.0,621.1 258.8,621.3 260.5,621.4 262.2,621.6 263.9,621.7 265.7,621.9 267.4,622.1 269.1,622.3 270.8,622.4 272.6,622.6 274.3,622.8 276.0,623.0 277.7,623.2 279.5,623.4 281.2,623.6 282.9,623.8 284.6,624.0 286.4,624.2 288.1,624.4 289.8,624.6 291.5,624.9 293.3,625.1 295.0,625.3 296.7,625.6 298.4,625.8 300.1,626.0 301.9,626.3 303.6,626.6 305.3,626.8 307.0,627.1 308.8,627.4 310.5,627.6 312.2,627.9 313.9,628.2 315.7,628.5 317.4,628.8 319.1,629.1 320.8,629.4 322.6,629.7 324.3,630.0 326.0,630.4 327.7,630.7 329.5,631.0 331.2,631.4 332.9,631.7 334.6,632.1 336.4,632.4 338.1,632.8 339.8,633.2 341.5,633.6 343.3,634.0 345.0,634.4 346.7,634.8 348.4,635.2 350.2,635.6 351.9,636.0 353.6,636.4 355.3,636.9 357.0,637.3 358.8,637.8 360.5,638.3 362.2,638.7 363.9,639.2 365.7,639.7 367.4,640.2 369.1,640.7 370.8,641.2 372.6,641.7 374.3,642.3 376.0,642.8 377.7,643.4 379.5,643.9 381.2,644.5 382.9,645.1 384.6,645.6 386.4,646.2 388.1,646.8 389.8,647.5 391.5,648.1 393.3,648.7 395.0,649.4 396.7,650.0 398.4,650.7 400.2,651.4 401.9,652.0 403.6,652.7 405.3,653.4 407.0,654.1 408.8,654.9 410.5,655.6 412.2,656.3 413.9,657.1 415.7,657.9 417.4,658.6 419.1,659.4 420.8,660.2 422.6,661.0 424.3,661.8 426.0,662.6 427.7,663.5 429.5,664.3 431.2,665.2 432.9,666.0 434.6,666.9 436.4,667.8 438.1,668.7 439.8,669.6 441.5,670.5 443.3,671.4 445.0,672.3 446.7,673.2 448.4,674.2 450.2,675.1 451.9,676.1 453.6,677.0 455.3,678.0 457.0,678.9 458.8,679.9 460.5,680.9 462.2,681.9 463.9,682.9 465.7,683.9 467.4,684.9 469.1,685.9 470.8,686.9 472.6,687.9 474.3,688.9 476.0,689.9 477.7,690.9 479.5,691.9 481.2,693.0 482.9,694.0 484.6,695.0 486.4,696.0 488.1,697.0 489.8,698.0 491.5,699.1 493.3,700.1 495.0,701.1 496.7,702.1 498.4,703.1 500.2,704.1 501.9,705.1 503.6,706.1 505.3,707.1 507.1,708.1 508.8,709.1 510.5,710.1 512.2,711.0 513.9,712.0 515.7,713.0 517.4,714.0 519.1,715.0 520.8,715.9 522.6,716.9 524.3,717.9 526.0,718.9 527.7,719.8 529.5,720.8 531.2,721.8 532.9,722.8 534.6,723.8 536.4,724.7 538.1,725.7 539.8,726.7 541.5,727.7 543.3,728.7 545.0,729.8 546.7,730.8 548.4,731.8 550.2,732.9 551.9,733.9 553.6,735.0 555.3,736.1 557.1,737.1 558.8,738.2 560.5,739.4 562.2,740.5 563.9,741.7 565.7,742.8 567.4,744.0 569.1,745.2 570.8,746.4 572.6,747.7 574.3,748.9 576.0,750.2 577.7,751.5 579.5,752.9 581.2,754.2 582.9,755.6 584.6,757.0 586.4,758.5 588.1,759.9 589.8,761.4 591.5,762.9 593.3,764.5 595.0,766.1 596.7,767.7 598.4,769.3 600.2,771.0 601.9,772.7 603.6,774.4 605.3,776.2 607.1,778.0 608.8,779.9 610.5,781.7 612.2,783.7 613.9,785.6 615.7,787.6 617.4,789.6 619.1,791.7 620.8,793.8 622.6,796.0 624.3,798.2 626.0,800.5 627.7,802.7 629.5,805.1 631.2,807.5 632.9,809.9 634.6,812.4 636.4,814.9 638.1,817.5 639.8,820.2 641.5,822.8 643.3,825.6 645.0,828.4 646.7,831.2 648.4,834.1 650.2,837.1 651.9,840.1 653.6,843.2 655.3,846.4 657.1,849.6 658.8,852.9 660.5,856.2 662.2,859.6 664.0,863.1 665.7,866.7 667.4,870.3 669.1,874.0 670.8,877.8" fill="none" stroke="#000" stroke-width="2.7"/>
<line x1="154.00" y1="593.40" x2="154.00" y2="633.90" stroke="#000" stroke-width="2.6" />
<line x1="147.40" y1="593.40" x2="160.60" y2="593.40" stroke="#000" stroke-width="2.7" />
<line x1="147.40" y1="633.90" x2="160.60" y2="633.90" stroke="#000" stroke-width="2.7" />
<circle cx="154.0" cy="609.0" r="11.3" fill="none" stroke="#000" stroke-width="2.7"/>
<line x1="218.50" y1="634.40" x2="218.50" y2="683.00" stroke="#000" stroke-width="2.6" />
<line x1="211.90" y1="634.40" x2="225.10" y2="634.40" stroke="#000" stroke-width="2.7" />
<line x1="211.90" y1="683.00" x2="225.10" y2="683.00" stroke="#000" stroke-width="2.7" />
<circle cx="218.5" cy="652.2" r="11.3" fill="none" stroke="#000" stroke-width="2.7"/>
<line x1="283.20" y1="598.80" x2="283.20" y2="619.30" stroke="#000" stroke-width="2.6" />
<line x1="276.60" y1="598.80" x2="289.80" y2="598.80" stroke="#000" stroke-width="2.7" />
<line x1="276.60" y1="619.30" x2="289.80" y2="619.30" stroke="#000" stroke-width="2.7" />
<circle cx="283.2" cy="609.5" r="11.3" fill="none" stroke="#000" stroke-width="2.7"/>
<line x1="348.20" y1="620.80" x2="348.20" y2="638.00" stroke="#000" stroke-width="2.6" />
<line x1="341.60" y1="620.80" x2="354.80" y2="620.80" stroke="#000" stroke-width="2.7" />
<line x1="341.60" y1="638.00" x2="354.80" y2="638.00" stroke="#000" stroke-width="2.7" />
<circle cx="348.2" cy="628.7" r="11.3" fill="none" stroke="#000" stroke-width="2.7"/>
<line x1="412.40" y1="658.20" x2="412.40" y2="671.00" stroke="#000" stroke-width="2.6" />
<line x1="405.80" y1="658.20" x2="419.00" y2="658.20" stroke="#000" stroke-width="2.7" />
<line x1="405.80" y1="671.00" x2="419.00" y2="671.00" stroke="#000" stroke-width="2.7" />
<circle cx="412.4" cy="663.6" r="11.3" fill="none" stroke="#000" stroke-width="2.7"/>
<line x1="476.70" y1="683.90" x2="476.70" y2="699.20" stroke="#000" stroke-width="2.6" />
<line x1="470.10" y1="683.90" x2="483.30" y2="683.90" stroke="#000" stroke-width="2.7" />
<line x1="470.10" y1="699.20" x2="483.30" y2="699.20" stroke="#000" stroke-width="2.7" />
<circle cx="476.7" cy="692.7" r="11.3" fill="none" stroke="#000" stroke-width="2.7"/>
<line x1="541.30" y1="729.80" x2="541.30" y2="744.20" stroke="#000" stroke-width="2.6" />
<line x1="534.70" y1="729.80" x2="547.90" y2="729.80" stroke="#000" stroke-width="2.7" />
<line x1="534.70" y1="744.20" x2="547.90" y2="744.20" stroke="#000" stroke-width="2.7" />
<circle cx="541.3" cy="737.0" r="11.3" fill="none" stroke="#000" stroke-width="2.7"/>
<line x1="606.10" y1="768.70" x2="606.10" y2="783.50" stroke="#000" stroke-width="2.6" />
<line x1="599.50" y1="768.70" x2="612.70" y2="768.70" stroke="#000" stroke-width="2.7" />
<line x1="599.50" y1="783.50" x2="612.70" y2="783.50" stroke="#000" stroke-width="2.7" />
<circle cx="606.1" cy="775.7" r="11.3" fill="none" stroke="#000" stroke-width="2.7"/>
<line x1="670.80" y1="858.40" x2="670.80" y2="899.00" stroke="#000" stroke-width="2.6" />
<line x1="664.20" y1="858.40" x2="677.40" y2="858.40" stroke="#000" stroke-width="2.7" />
<line x1="664.20" y1="899.00" x2="677.40" y2="899.00" stroke="#000" stroke-width="2.7" />
<circle cx="670.8" cy="874.3" r="11.3" fill="none" stroke="#000" stroke-width="2.7"/>
<rect x="136.10" y="575.40" width="553.80" height="397.40" fill="none" stroke="#000" stroke-width="2.7"/>
<line x1="151.09" y1="972.80" x2="151.09" y2="961.40" stroke="#000" stroke-width="2.7" />
<line x1="151.09" y1="575.40" x2="151.09" y2="586.80" stroke="#000" stroke-width="2.7" />
<line x1="164.46" y1="972.80" x2="164.46" y2="961.40" stroke="#000" stroke-width="2.7" />
<line x1="164.46" y1="575.40" x2="164.46" y2="586.80" stroke="#000" stroke-width="2.7" />
<line x1="176.04" y1="972.80" x2="176.04" y2="961.40" stroke="#000" stroke-width="2.7" />
<line x1="176.04" y1="575.40" x2="176.04" y2="586.80" stroke="#000" stroke-width="2.7" />
<line x1="186.26" y1="972.80" x2="186.26" y2="961.40" stroke="#000" stroke-width="2.7" />
<line x1="186.26" y1="575.40" x2="186.26" y2="586.80" stroke="#000" stroke-width="2.7" />
<line x1="195.40" y1="972.80" x2="195.40" y2="950.80" stroke="#000" stroke-width="2.7" />
<line x1="195.40" y1="575.40" x2="195.40" y2="597.40" stroke="#000" stroke-width="2.7" />
<line x1="255.53" y1="972.80" x2="255.53" y2="961.40" stroke="#000" stroke-width="2.7" />
<line x1="255.53" y1="575.40" x2="255.53" y2="586.80" stroke="#000" stroke-width="2.7" />
<line x1="290.70" y1="972.80" x2="290.70" y2="961.40" stroke="#000" stroke-width="2.7" />
<line x1="290.70" y1="575.40" x2="290.70" y2="586.80" stroke="#000" stroke-width="2.7" />
<line x1="315.66" y1="972.80" x2="315.66" y2="961.40" stroke="#000" stroke-width="2.7" />
<line x1="315.66" y1="575.40" x2="315.66" y2="586.80" stroke="#000" stroke-width="2.7" />
<line x1="335.02" y1="972.80" x2="335.02" y2="961.40" stroke="#000" stroke-width="2.7" />
<line x1="335.02" y1="575.40" x2="335.02" y2="586.80" stroke="#000" stroke-width="2.7" />
<line x1="350.84" y1="972.80" x2="350.84" y2="961.40" stroke="#000" stroke-width="2.7" />
<line x1="350.84" y1="575.40" x2="350.84" y2="586.80" stroke="#000" stroke-width="2.7" />
<line x1="364.21" y1="972.80" x2="364.21" y2="961.40" stroke="#000" stroke-width="2.7" />
<line x1="364.21" y1="575.40" x2="364.21" y2="586.80" stroke="#000" stroke-width="2.7" />
<line x1="375.79" y1="972.80" x2="375.79" y2="961.40" stroke="#000" stroke-width="2.7" />
<line x1="375.79" y1="575.40" x2="375.79" y2="586.80" stroke="#000" stroke-width="2.7" />
<line x1="386.01" y1="972.80" x2="386.01" y2="961.40" stroke="#000" stroke-width="2.7" />
<line x1="386.01" y1="575.40" x2="386.01" y2="586.80" stroke="#000" stroke-width="2.7" />
<line x1="395.15" y1="972.80" x2="395.15" y2="950.80" stroke="#000" stroke-width="2.7" />
<line x1="395.15" y1="575.40" x2="395.15" y2="597.40" stroke="#000" stroke-width="2.7" />
<line x1="455.28" y1="972.80" x2="455.28" y2="961.40" stroke="#000" stroke-width="2.7" />
<line x1="455.28" y1="575.40" x2="455.28" y2="586.80" stroke="#000" stroke-width="2.7" />
<line x1="490.45" y1="972.80" x2="490.45" y2="961.40" stroke="#000" stroke-width="2.7" />
<line x1="490.45" y1="575.40" x2="490.45" y2="586.80" stroke="#000" stroke-width="2.7" />
<line x1="515.41" y1="972.80" x2="515.41" y2="961.40" stroke="#000" stroke-width="2.7" />
<line x1="515.41" y1="575.40" x2="515.41" y2="586.80" stroke="#000" stroke-width="2.7" />
<line x1="534.77" y1="972.80" x2="534.77" y2="961.40" stroke="#000" stroke-width="2.7" />
<line x1="534.77" y1="575.40" x2="534.77" y2="586.80" stroke="#000" stroke-width="2.7" />
<line x1="550.59" y1="972.80" x2="550.59" y2="961.40" stroke="#000" stroke-width="2.7" />
<line x1="550.59" y1="575.40" x2="550.59" y2="586.80" stroke="#000" stroke-width="2.7" />
<line x1="563.96" y1="972.80" x2="563.96" y2="961.40" stroke="#000" stroke-width="2.7" />
<line x1="563.96" y1="575.40" x2="563.96" y2="586.80" stroke="#000" stroke-width="2.7" />
<line x1="575.54" y1="972.80" x2="575.54" y2="961.40" stroke="#000" stroke-width="2.7" />
<line x1="575.54" y1="575.40" x2="575.54" y2="586.80" stroke="#000" stroke-width="2.7" />
<line x1="585.76" y1="972.80" x2="585.76" y2="961.40" stroke="#000" stroke-width="2.7" />
<line x1="585.76" y1="575.40" x2="585.76" y2="586.80" stroke="#000" stroke-width="2.7" />
<line x1="594.90" y1="972.80" x2="594.90" y2="950.80" stroke="#000" stroke-width="2.7" />
<line x1="594.90" y1="575.40" x2="594.90" y2="597.40" stroke="#000" stroke-width="2.7" />
<line x1="655.03" y1="972.80" x2="655.03" y2="961.40" stroke="#000" stroke-width="2.7" />
<line x1="655.03" y1="575.40" x2="655.03" y2="586.80" stroke="#000" stroke-width="2.7" />
<line x1="136.10" y1="692.50" x2="158.10" y2="692.50" stroke="#000" stroke-width="2.7" />
<line x1="667.90" y1="692.50" x2="689.90" y2="692.50" stroke="#000" stroke-width="2.7" />
<line x1="136.10" y1="794.80" x2="158.10" y2="794.80" stroke="#000" stroke-width="2.7" />
<line x1="667.90" y1="794.80" x2="689.90" y2="794.80" stroke="#000" stroke-width="2.7" />
<line x1="136.10" y1="897.10" x2="158.10" y2="897.10" stroke="#000" stroke-width="2.7" />
<line x1="667.90" y1="897.10" x2="689.90" y2="897.10" stroke="#000" stroke-width="2.7" />
<text x="195.40" y="1010.80" font-size="34" text-anchor="middle" >1</text>
<text x="395.15" y="1010.80" font-size="34" text-anchor="middle" >10</text>
<text x="594.90" y="1010.80" font-size="34" text-anchor="middle" >100</text>
<text x="122.0" y="703.7" font-size="34" text-anchor="end">10<tspan font-size="23.5" dy="-12.4">−2</tspan></text>
<text x="122.0" y="806.0" font-size="34" text-anchor="end">10<tspan font-size="23.5" dy="-12.4">−3</tspan></text>
<text x="122.0" y="908.3" font-size="34" text-anchor="end">10<tspan font-size="23.5" dy="-12.4">−4</tspan></text>
<text x="355" y="1056" font-size="33">Δ<tspan font-style="italic">t</tspan><tspan font-size="24.5" dy="8.5">PS</tspan><tspan dy="-8.5" dx="2.8"> (s)</tspan></text>
<g transform="translate(30.5,915) rotate(-90)"><text x="0" y="0" font-size="34.5">Prob. density (s<tspan font-size="23.5" dy="-12">−1</tspan><tspan dy="12">)</tspan></text></g>
<text x="1.50" y="587.30" font-size="42" text-anchor="start" font-weight="bold">c</text>
<rect x="865.1" y="731.4" width="25.8" height="228.4" fill="#F5B035"/>
<rect x="890.6" y="754.7" width="25.8" height="205.1" fill="#622411"/>
<rect x="916.1" y="733.6" width="25.8" height="226.2" fill="#BE4A96"/>
<line x1="877.85" y1="704.90" x2="877.85" y2="765.20" stroke="#000" stroke-width="2.7" />
<line x1="871.25" y1="704.90" x2="884.45" y2="704.90" stroke="#000" stroke-width="2.9" />
<line x1="871.25" y1="765.20" x2="884.45" y2="765.20" stroke="#000" stroke-width="2.9" />
<line x1="903.35" y1="734.20" x2="903.35" y2="778.20" stroke="#000" stroke-width="2.7" />
<line x1="896.75" y1="734.20" x2="909.95" y2="734.20" stroke="#000" stroke-width="2.9" />
<line x1="896.75" y1="778.20" x2="909.95" y2="778.20" stroke="#000" stroke-width="2.9" />
<line x1="928.85" y1="710.90" x2="928.85" y2="760.70" stroke="#000" stroke-width="2.7" />
<line x1="922.25" y1="710.90" x2="935.45" y2="710.90" stroke="#000" stroke-width="2.9" />
<line x1="922.25" y1="760.70" x2="935.45" y2="760.70" stroke="#000" stroke-width="2.9" />
<rect x="967.7" y="897.1" width="25.8" height="62.7" fill="#F5B035"/>
<rect x="993.2" y="927.6" width="25.8" height="32.2" fill="#622411"/>
<rect x="1018.7" y="895.0" width="25.8" height="64.8" fill="#BE4A96"/>
<line x1="980.45" y1="865.70" x2="980.45" y2="940.30" stroke="#000" stroke-width="2.7" />
<line x1="973.85" y1="865.70" x2="987.05" y2="865.70" stroke="#000" stroke-width="2.9" />
<line x1="973.85" y1="940.30" x2="987.05" y2="940.30" stroke="#000" stroke-width="2.9" />
<line x1="1005.95" y1="914.00" x2="1005.95" y2="938.80" stroke="#000" stroke-width="2.7" />
<line x1="999.35" y1="914.00" x2="1012.55" y2="914.00" stroke="#000" stroke-width="2.9" />
<line x1="999.35" y1="938.80" x2="1012.55" y2="938.80" stroke="#000" stroke-width="2.9" />
<line x1="1031.45" y1="862.40" x2="1031.45" y2="942.40" stroke="#000" stroke-width="2.7" />
<line x1="1024.85" y1="862.40" x2="1038.05" y2="862.40" stroke="#000" stroke-width="2.9" />
<line x1="1024.85" y1="942.40" x2="1038.05" y2="942.40" stroke="#000" stroke-width="2.9" />
<rect x="1069.6" y="628.3" width="25.8" height="331.5" fill="#F5B035"/>
<rect x="1095.1" y="630.7" width="25.8" height="329.1" fill="#622411"/>
<rect x="1120.6" y="614.1" width="25.8" height="345.7" fill="#BE4A96"/>
<line x1="1082.35" y1="615.60" x2="1082.35" y2="639.50" stroke="#000" stroke-width="2.7" />
<line x1="1075.75" y1="615.60" x2="1088.95" y2="615.60" stroke="#000" stroke-width="2.9" />
<line x1="1075.75" y1="639.50" x2="1088.95" y2="639.50" stroke="#000" stroke-width="2.9" />
<line x1="1107.85" y1="617.10" x2="1107.85" y2="642.80" stroke="#000" stroke-width="2.7" />
<line x1="1101.25" y1="617.10" x2="1114.45" y2="617.10" stroke="#000" stroke-width="2.9" />
<line x1="1101.25" y1="642.80" x2="1114.45" y2="642.80" stroke="#000" stroke-width="2.9" />
<line x1="1133.35" y1="597.20" x2="1133.35" y2="630.70" stroke="#000" stroke-width="2.7" />
<line x1="1126.75" y1="597.20" x2="1139.95" y2="597.20" stroke="#000" stroke-width="2.9" />
<line x1="1126.75" y1="630.70" x2="1139.95" y2="630.70" stroke="#000" stroke-width="2.9" />
<rect x="1172.2" y="711.3" width="25.8" height="248.5" fill="#F5B035"/>
<rect x="1197.7" y="775.6" width="25.8" height="184.2" fill="#622411"/>
<rect x="1223.2" y="738.4" width="25.8" height="221.4" fill="#BE4A96"/>
<line x1="1184.95" y1="683.20" x2="1184.95" y2="748.10" stroke="#000" stroke-width="2.7" />
<line x1="1178.35" y1="683.20" x2="1191.55" y2="683.20" stroke="#000" stroke-width="2.9" />
<line x1="1178.35" y1="748.10" x2="1191.55" y2="748.10" stroke="#000" stroke-width="2.9" />
<line x1="1210.45" y1="756.50" x2="1210.45" y2="794.90" stroke="#000" stroke-width="2.7" />
<line x1="1203.85" y1="756.50" x2="1217.05" y2="756.50" stroke="#000" stroke-width="2.9" />
<line x1="1203.85" y1="794.90" x2="1217.05" y2="794.90" stroke="#000" stroke-width="2.9" />
<line x1="1235.95" y1="703.70" x2="1235.95" y2="791.90" stroke="#000" stroke-width="2.7" />
<line x1="1229.35" y1="703.70" x2="1242.55" y2="703.70" stroke="#000" stroke-width="2.9" />
<line x1="1229.35" y1="791.90" x2="1242.55" y2="791.90" stroke="#000" stroke-width="2.9" />
<rect x="1273.7" y="907.3" width="25.8" height="52.5" fill="#F5B035"/>
<rect x="1299.2" y="931.7" width="25.8" height="28.1" fill="#622411"/>
<rect x="1324.7" y="882.6" width="25.8" height="77.2" fill="#BE4A96"/>
<line x1="1286.45" y1="891.80" x2="1286.45" y2="920.50" stroke="#000" stroke-width="2.7" />
<line x1="1279.85" y1="891.80" x2="1293.05" y2="891.80" stroke="#000" stroke-width="2.9" />
<line x1="1279.85" y1="920.50" x2="1293.05" y2="920.50" stroke="#000" stroke-width="2.9" />
<line x1="1311.95" y1="914.10" x2="1311.95" y2="948.60" stroke="#000" stroke-width="2.7" />
<line x1="1305.35" y1="914.10" x2="1318.55" y2="914.10" stroke="#000" stroke-width="2.9" />
<line x1="1305.35" y1="948.60" x2="1318.55" y2="948.60" stroke="#000" stroke-width="2.9" />
<line x1="1337.45" y1="856.60" x2="1337.45" y2="915.50" stroke="#000" stroke-width="2.7" />
<line x1="1330.85" y1="856.60" x2="1344.05" y2="856.60" stroke="#000" stroke-width="2.9" />
<line x1="1330.85" y1="915.50" x2="1344.05" y2="915.50" stroke="#000" stroke-width="2.9" />
<rect x="1376.2" y="687.3" width="25.8" height="272.5" fill="#F5B035"/>
<rect x="1401.7" y="635.5" width="25.8" height="324.3" fill="#622411"/>
<rect x="1427.2" y="641.3" width="25.8" height="318.5" fill="#BE4A96"/>
<line x1="1388.95" y1="638.20" x2="1388.95" y2="811.50" stroke="#000" stroke-width="2.7" />
<line x1="1382.35" y1="638.20" x2="1395.55" y2="638.20" stroke="#000" stroke-width="2.9" />
<line x1="1382.35" y1="811.50" x2="1395.55" y2="811.50" stroke="#000" stroke-width="2.9" />
<line x1="1414.45" y1="615.20" x2="1414.45" y2="658.20" stroke="#000" stroke-width="2.7" />
<line x1="1407.85" y1="615.20" x2="1421.05" y2="615.20" stroke="#000" stroke-width="2.9" />
<line x1="1407.85" y1="658.20" x2="1421.05" y2="658.20" stroke="#000" stroke-width="2.9" />
<line x1="1439.95" y1="620.30" x2="1439.95" y2="664.30" stroke="#000" stroke-width="2.7" />
<line x1="1433.35" y1="620.30" x2="1446.55" y2="620.30" stroke="#000" stroke-width="2.9" />
<line x1="1433.35" y1="664.30" x2="1446.55" y2="664.30" stroke="#000" stroke-width="2.9" />
<rect x="850.30" y="575.40" width="617.30" height="384.40" fill="none" stroke="#000" stroke-width="2.7"/>
<line x1="850.30" y1="953.50" x2="872.30" y2="953.50" stroke="#000" stroke-width="2.7" />
<line x1="1445.60" y1="953.50" x2="1467.60" y2="953.50" stroke="#000" stroke-width="2.7" />
<line x1="850.30" y1="897.21" x2="862.80" y2="897.21" stroke="#000" stroke-width="2.7" />
<line x1="1455.10" y1="897.21" x2="1467.60" y2="897.21" stroke="#000" stroke-width="2.7" />
<line x1="850.30" y1="864.28" x2="862.80" y2="864.28" stroke="#000" stroke-width="2.7" />
<line x1="1455.10" y1="864.28" x2="1467.60" y2="864.28" stroke="#000" stroke-width="2.7" />
<line x1="850.30" y1="840.91" x2="862.80" y2="840.91" stroke="#000" stroke-width="2.7" />
<line x1="1455.10" y1="840.91" x2="1467.60" y2="840.91" stroke="#000" stroke-width="2.7" />
<line x1="850.30" y1="822.79" x2="862.80" y2="822.79" stroke="#000" stroke-width="2.7" />
<line x1="1455.10" y1="822.79" x2="1467.60" y2="822.79" stroke="#000" stroke-width="2.7" />
<line x1="850.30" y1="807.99" x2="862.80" y2="807.99" stroke="#000" stroke-width="2.7" />
<line x1="1455.10" y1="807.99" x2="1467.60" y2="807.99" stroke="#000" stroke-width="2.7" />
<line x1="850.30" y1="795.47" x2="862.80" y2="795.47" stroke="#000" stroke-width="2.7" />
<line x1="1455.10" y1="795.47" x2="1467.60" y2="795.47" stroke="#000" stroke-width="2.7" />
<line x1="850.30" y1="784.62" x2="862.80" y2="784.62" stroke="#000" stroke-width="2.7" />
<line x1="1455.10" y1="784.62" x2="1467.60" y2="784.62" stroke="#000" stroke-width="2.7" />
<line x1="850.30" y1="775.06" x2="862.80" y2="775.06" stroke="#000" stroke-width="2.7" />
<line x1="1455.10" y1="775.06" x2="1467.60" y2="775.06" stroke="#000" stroke-width="2.7" />
<line x1="850.30" y1="766.50" x2="872.30" y2="766.50" stroke="#000" stroke-width="2.7" />
<line x1="1445.60" y1="766.50" x2="1467.60" y2="766.50" stroke="#000" stroke-width="2.7" />
<line x1="850.30" y1="710.21" x2="862.80" y2="710.21" stroke="#000" stroke-width="2.7" />
<line x1="1455.10" y1="710.21" x2="1467.60" y2="710.21" stroke="#000" stroke-width="2.7" />
<line x1="850.30" y1="677.28" x2="862.80" y2="677.28" stroke="#000" stroke-width="2.7" />
<line x1="1455.10" y1="677.28" x2="1467.60" y2="677.28" stroke="#000" stroke-width="2.7" />
<line x1="850.30" y1="653.91" x2="862.80" y2="653.91" stroke="#000" stroke-width="2.7" />
<line x1="1455.10" y1="653.91" x2="1467.60" y2="653.91" stroke="#000" stroke-width="2.7" />
<line x1="850.30" y1="635.79" x2="862.80" y2="635.79" stroke="#000" stroke-width="2.7" />
<line x1="1455.10" y1="635.79" x2="1467.60" y2="635.79" stroke="#000" stroke-width="2.7" />
<line x1="850.30" y1="620.99" x2="862.80" y2="620.99" stroke="#000" stroke-width="2.7" />
<line x1="1455.10" y1="620.99" x2="1467.60" y2="620.99" stroke="#000" stroke-width="2.7" />
<line x1="850.30" y1="608.47" x2="862.80" y2="608.47" stroke="#000" stroke-width="2.7" />
<line x1="1455.10" y1="608.47" x2="1467.60" y2="608.47" stroke="#000" stroke-width="2.7" />
<line x1="850.30" y1="597.62" x2="862.80" y2="597.62" stroke="#000" stroke-width="2.7" />
<line x1="1455.10" y1="597.62" x2="1467.60" y2="597.62" stroke="#000" stroke-width="2.7" />
<line x1="850.30" y1="588.06" x2="862.80" y2="588.06" stroke="#000" stroke-width="2.7" />
<line x1="1455.10" y1="588.06" x2="1467.60" y2="588.06" stroke="#000" stroke-width="2.7" />
<line x1="850.30" y1="579.50" x2="872.30" y2="579.50" stroke="#000" stroke-width="2.7" />
<line x1="1445.60" y1="579.50" x2="1467.60" y2="579.50" stroke="#000" stroke-width="2.7" />
<text x="825.50" y="592.50" font-size="34" text-anchor="end" >1</text>
<text x="818.50" y="780.50" font-size="34" text-anchor="end" letter-spacing="-2.1">0.1</text>
<text x="815.50" y="968.50" font-size="34" text-anchor="end" letter-spacing="-1.5">0.01</text>
<text x="731.50" y="586.50" font-size="42" text-anchor="start" font-weight="bold">d</text>
<g transform="translate(925.1,986.8) rotate(-45)"><text x="0" y="0" font-size="34.5" text-anchor="end"><tspan font-style="italic">k</tspan><tspan font-size="25" dy="9.5">1, US</tspan><tspan dy="-9.5"> (s</tspan><tspan font-size="23.5" dy="-12">−1</tspan><tspan dy="12">)</tspan></text></g>
<g transform="translate(1027.7,986.8) rotate(-45)"><text x="0" y="0" font-size="34.5" text-anchor="end"><tspan font-style="italic">k</tspan><tspan font-size="25" dy="9.5">2, US</tspan><tspan dy="-9.5"> (s</tspan><tspan font-size="23.5" dy="-12">−1</tspan><tspan dy="12">)</tspan></text></g>
<g transform="translate(1129.5,986.8) rotate(-45)"><text x="0" y="0" font-size="34.5" text-anchor="end"><tspan font-style="italic">P</tspan><tspan dx="3">(</tspan><tspan font-style="italic">k</tspan><tspan font-size="25" dy="9.5">1, US</tspan><tspan dy="-9.5">)</tspan></text></g>
<g transform="translate(1232.2,986.8) rotate(-45)"><text x="0" y="0" font-size="34.5" text-anchor="end"><tspan font-style="italic">k</tspan><tspan font-size="25" dy="9.5">1 ,PS</tspan><tspan dy="-9.5"> (s</tspan><tspan font-size="23.5" dy="-12">−1</tspan><tspan dy="12">)</tspan></text></g>
<g transform="translate(1333.7,986.8) rotate(-45)"><text x="0" y="0" font-size="34.5" text-anchor="end"><tspan font-style="italic">k</tspan><tspan font-size="25" dy="9.5">2, PS</tspan><tspan dy="-9.5"> (s</tspan><tspan font-size="23.5" dy="-12">−1</tspan><tspan dy="12">)</tspan></text></g>
<g transform="translate(1436.2,986.8) rotate(-45)"><text x="0" y="0" font-size="34.5" text-anchor="end"><tspan font-style="italic">P</tspan><tspan dx="3">(</tspan><tspan font-style="italic">k</tspan><tspan font-size="25" dy="9.5">1, PS</tspan><tspan dy="-9.5">)</tspan></text></g>
</svg></body></html>
